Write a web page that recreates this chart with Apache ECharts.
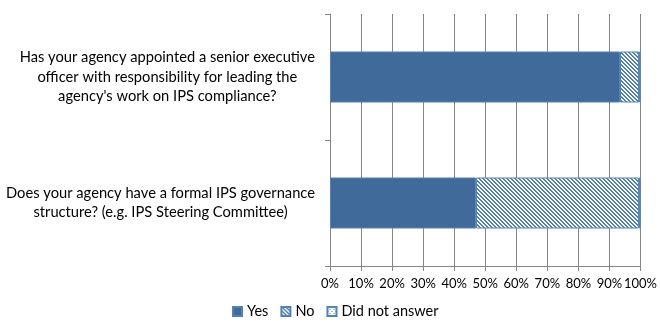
<!DOCTYPE html>
<html><head><meta charset="utf-8">
<script src="https://cdn.jsdelivr.net/npm/echarts@6/dist/echarts.min.js"></script>
<style>html,body{margin:0;padding:0;background:#fff}#c{width:660px;height:336px}</style>
</head><body><div id="c"></div>
<script>
const categories = [
  "Has your agency appointed a senior executive\nofficer with responsibility for leading the\nagency's work on IPS compliance?",
  "Does your agency have a formal IPS governance\nstructure? (e.g. IPS Steering Committee)"
];
const seriesNames = ["Yes", "No", "Did not answer"];
const yesValues = [93.4, 47.0];
const noValues = [6.1, 52.5];
const dnaValues = [0.5, 0.5];
const xTicks = [0,10,20,30,40,50,60,70,80,90,100];

const BLUE = '#3F6A9A';
const EDGE = '#4F81BD';

function makePattern(kind) {
  const c = document.createElement('canvas');
  c.width = 4; c.height = 4;
  const ctx = c.getContext('2d');
  ctx.fillStyle = '#fff'; ctx.fillRect(0,0,4,4);
  ctx.fillStyle = EDGE;
  for (let y = 0; y < 4; y++) for (let x = 0; x < 4; x++) {
    if (kind === 'hatch') {
      const d = ((x - y) % 4 + 4) % 4;
      if (d === 0 || d === 1) ctx.fillRect(x, y, 1, 1);
    } else {
      if ((x === 0 && y === 0) || (x === 2 && y === 2)) ctx.fillRect(x, y, 1, 1);
    }
  }
  return c;
}
const hatch = { image: makePattern('hatch'), repeat: 'repeat' };
const dots = { image: makePattern('dots'), repeat: 'repeat' };

const FONT = 'Lato';
const chart = echarts.init(document.getElementById('c'), null, {renderer: 'canvas'});
const mk = (name, data, color) => ({
  name, type: 'bar', stack: 'total', data, barWidth: 51,
  itemStyle: { color, borderColor: EDGE, borderWidth: 1 },
  emphasis: { disabled: true },
  animation: false
});
chart.setOption({
  animation: false,
  textStyle: { fontFamily: FONT },
  grid: { left: 330, right: 19, top: 14, bottom: 70, containLabel: false },
  legend: {
    bottom: 12, left: 227,
    itemWidth: 9, itemHeight: 9, itemGap: 12,
    textStyle: { fontFamily: FONT, fontSize: 14.5, color: '#000' },
    data: seriesNames.map(n => ({ name: n, icon: 'rect' }))
  },
  xAxis: {
    type: 'value', min: 0, max: 100, interval: 10,
    axisLine: { show: true, lineStyle: { color: '#868686' } },
    axisTick: { show: true, length: 5, lineStyle: { color: '#868686' } },
    splitLine: { show: true, lineStyle: { color: '#868686' } },
    axisLabel: { formatter: v => v + '%', fontFamily: FONT, fontSize: 13, color: '#000', margin: 11 }
  },
  yAxis: {
    type: 'category', data: categories, inverse: true,
    axisLine: { show: true, lineStyle: { color: '#868686' } },
    axisTick: { show: true, length: 5, lineStyle: { color: '#868686' } },
    axisLabel: {
      margin: 15,
      formatter: v => '{a|' + v + '}',
      rich: { a: { align: 'center', fontFamily: FONT, fontSize: 14.7, lineHeight: 19.5, color: '#000' } }
    }
  },
  series: [
    mk(seriesNames[0], yesValues, BLUE),
    mk(seriesNames[1], noValues, hatch),
    mk(seriesNames[2], dnaValues, dots)
  ]
});
</script></body></html>
